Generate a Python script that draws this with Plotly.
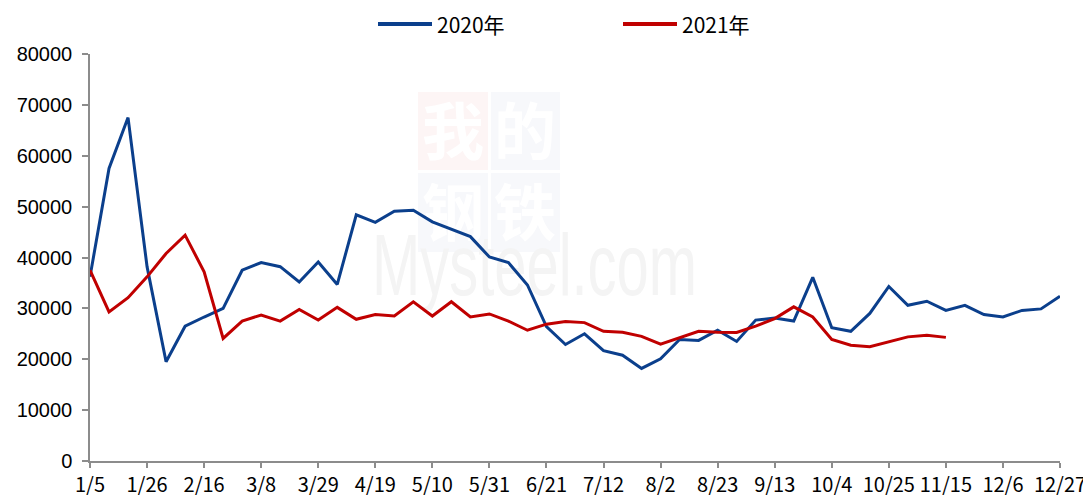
import plotly.graph_objects as go
import base64

categories = ["1/5","1/12","1/19","1/26","2/2","2/9","2/16","2/23","3/1","3/8","3/15","3/22","3/29",
              "4/5","4/12","4/19","4/26","5/3","5/10","5/17","5/24","5/31","6/7","6/14","6/21","6/28",
              "7/5","7/12","7/19","7/26","8/2","8/9","8/16","8/23","8/30","9/6","9/13","9/20","9/27",
              "10/4","10/11","10/18","10/25","11/1","11/8","11/15","11/22","11/29","12/6","12/13","12/20","12/27"]

tick_labels = ["1/5","1/26","2/16","3/8","3/29","4/19","5/10","5/31","6/21","7/12","8/2","8/23",
               "9/13","10/4","10/25","11/15","12/6","12/27"]

name_2020 = "2020年"
name_2021 = "2021年"

values_2020 = [36200, 57500, 67500, 38200, 19500, 26500, 28300, 30000, 37500, 39000, 38200, 35200, 39100,
               34700, 48400, 46900, 49100, 49300, 47000, 45500, 44100, 40100, 39000, 34600, 26400, 22900,
               25000, 21700, 20800, 18200, 20100, 23900, 23700, 25700, 23500, 27700, 28100, 27500, 36100,
               26200, 25500, 29000, 34300, 30600, 31400, 29600, 30600, 28800, 28300, 29600, 29900, 32400]

values_2021 = [37500, 29300, 32100, 36200, 40800, 44400, 37200, 24100, 27500, 28700, 27500, 29800, 27700,
               30200, 27850, 28800, 28500, 31300, 28500, 31300, 28300, 28900, 27500, 25700, 26900, 27400,
               27200, 25500, 25300, 24500, 22950, 24200, 25500, 25300, 25250, 26500, 28000, 30300, 28300,
               23900, 22750, 22450, 23400, 24400, 24700, 24300]

y_ticks = [0, 10000, 20000, 30000, 40000, 50000, 60000, 70000, 80000]

BLUE = "#0B3F8C"
RED = "#C00000"
AXIS = "#8C8C8C"

# page offset of the plot div (default body margin)
OFF = 8
W, H = 1091, 495
# target plot area in page pixels: x 90..1060, y 54..461
ML = 90 - OFF
MT = 54 - OFF
PW = 1060 - 90
PH = 461 - 54
MR = W - ML - PW
MB = H - MT - PH

def px(x):
    return (x - OFF - ML) / PW

def py(y):
    return (MT + PH - (y - OFF)) / PH

fig = go.Figure()
fig.add_trace(go.Scatter(x=categories, y=values_2020, name=name_2020, mode="lines",
                         line=dict(color=BLUE, width=3), showlegend=False))
fig.add_trace(go.Scatter(x=categories[:len(values_2021)], y=values_2021, name=name_2021, mode="lines",
                         line=dict(color=RED, width=3), showlegend=False))

# watermark as svg image placed below the traces
svg = """<svg xmlns='http://www.w3.org/2000/svg' width='360' height='230' viewBox='0 0 360 230'>
<rect x='58' y='12' width='70' height='78' fill='#FDF5F5'/>
<rect x='131' y='12' width='69' height='78' fill='#F7F8FB'/>
<rect x='58' y='93' width='70' height='79' fill='#F7F8FB'/>
<rect x='131' y='93' width='69' height='79' fill='#F7F8FB'/>
<text x='93' y='75' font-family='Noto Sans CJK SC' font-weight='bold' font-size='62' fill='#FFFFFF' text-anchor='middle'>我</text>
<text x='165' y='75' font-family='Noto Sans CJK SC' font-weight='bold' font-size='62' fill='#FFFFFF' text-anchor='middle'>的</text>
<text x='93' y='156' font-family='Noto Sans CJK SC' font-weight='bold' font-size='62' fill='#FFFFFF' text-anchor='middle'>钢</text>
<text x='165' y='156' font-family='Noto Sans CJK SC' font-weight='bold' font-size='62' fill='#FFFFFF' text-anchor='middle'>铁</text>
<text x='12' y='215' font-family='Liberation Sans' font-size='88' fill='#F4F4F4' textLength='325' lengthAdjust='spacingAndGlyphs'>Mysteel.com</text>
</svg>"""
src = "data:image/svg+xml;base64," + base64.b64encode(svg.encode("utf-8")).decode("ascii")
fig.add_layout_image(dict(source=src, xref="paper", yref="paper", x=px(360), y=py(80),
                          sizex=360 / PW, sizey=230 / PH, sizing="stretch", layer="below",
                          xanchor="left", yanchor="top"))

# legend drawn manually
legend_items = [(name_2020, BLUE, 378), (name_2021, RED, 623)]
for name, color, x0 in legend_items:
    fig.add_shape(type="line", xref="paper", yref="paper", x0=px(x0), x1=px(x0 + 54),
                  y0=py(24), y1=py(24), line=dict(color=color, width=4))
    fig.add_annotation(text=name, xref="paper", yref="paper", x=px(x0 + 57), y=py(24),
                       xanchor="left", yanchor="middle", showarrow=False,
                       font=dict(family="Noto Sans CJK SC", size=21, color="#000000"))

fig.update_layout(
    width=W, height=H,
    margin=dict(l=ML, r=MR, t=MT, b=MB, pad=0),
    paper_bgcolor="white", plot_bgcolor="rgba(0,0,0,0)",
    showlegend=False,
    xaxis=dict(type="category", range=[0, len(categories) - 1], tickmode="array",
               tickvals=tick_labels, ticktext=tick_labels, showgrid=False, zeroline=False,
               showline=True, linecolor=AXIS, linewidth=1.5, ticks="outside", ticklen=5,
               tickcolor=AXIS, tickwidth=1.5, automargin=False,
               tickfont=dict(family="Noto Sans CJK SC", size=20, color="#000000")),
    yaxis=dict(range=[0, 80000], tickmode="array", tickvals=y_ticks, ticktext=[str(v) for v in y_ticks],
               showgrid=False, zeroline=False, showline=True, linecolor=AXIS, linewidth=1.5,
               ticks="outside", ticklen=6, tickcolor=AXIS, tickwidth=1.5, automargin=False,
               ticklabelstandoff=6,
               tickfont=dict(family="Liberation Sans", size=20, color="#000000")),
)

fig.write_html("out.html")
